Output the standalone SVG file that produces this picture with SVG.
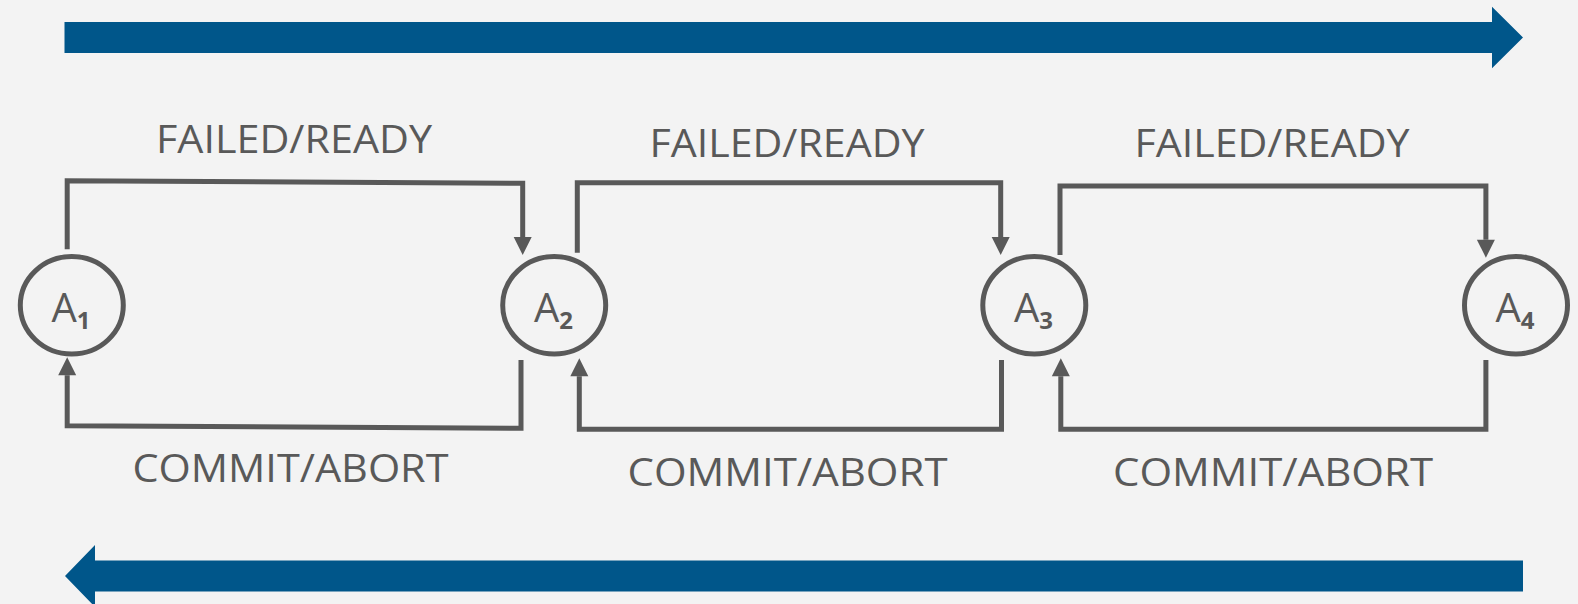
<svg xmlns="http://www.w3.org/2000/svg" width="1578" height="604" viewBox="0 0 1578 604">
<style>
.bg{fill:#f3f3f3}
.band{fill:#00568a}
.conn{fill:none;stroke:#595959;stroke-width:5;stroke-linejoin:miter}
.node{fill:none;stroke:#595959;stroke-width:5}
.lbl{font-family:"Open Sans","Liberation Sans",sans-serif;font-size:39px;fill:#595959;text-anchor:middle}
.nl{font-family:"Open Sans","Liberation Sans",sans-serif;font-size:40px;fill:#595959;text-anchor:middle}
.sub{font-size:24px;font-weight:bold}
</style>
<defs>
<marker id="ah" markerUnits="userSpaceOnUse" markerWidth="18" markerHeight="18" refX="0" refY="9" orient="auto" overflow="visible">
<path d="M0,0 L18,9 L0,18 Z" fill="#595959"/>
</marker>
</defs>
<rect class="bg" x="0" y="0" width="1578" height="604"/>
<g id="top-band">
<path class="band" d="M64.5,22 H1492 V6.7 L1523,37.5 L1492,68.3 V53 H64.5 Z"/>
</g>
<g id="bottom-band">
<path class="band" d="M1523,560.5 H95 V545 L65,576 L95,607 V591.5 H1523 Z"/>
</g>
<g id="connectors">
<path class="conn" d="M67.2,249.3 V180.7 L522.7,183.3 V237" marker-end="url(#ah)"/>
<path class="conn" d="M521,360 V428.3 L67.2,425.7 V375.3" marker-end="url(#ah)"/>
<path class="conn" d="M577.3,252.7 V182.7 H1000.7 V237" marker-end="url(#ah)"/>
<path class="conn" d="M1001.5,360 V429.3 H579.3 V376.3" marker-end="url(#ah)"/>
<path class="conn" d="M1060,255 V186 H1485.9 V239.7" marker-end="url(#ah)"/>
<path class="conn" d="M1485.9,360 V429.3 H1060.8 V376.3" marker-end="url(#ah)"/>
</g>
<g id="labels">
<text class="lbl" x="294" y="153.3" textLength="276" lengthAdjust="spacingAndGlyphs">FAILED/READY</text>
<text class="lbl" x="787" y="156.5" textLength="275" lengthAdjust="spacingAndGlyphs">FAILED/READY</text>
<text class="lbl" x="1272" y="156.5" textLength="275" lengthAdjust="spacingAndGlyphs">FAILED/READY</text>
<text class="lbl" x="290.5" y="481.7" textLength="316" lengthAdjust="spacingAndGlyphs">COMMIT/ABORT</text>
<text class="lbl" x="787.5" y="485.5" textLength="320" lengthAdjust="spacingAndGlyphs">COMMIT/ABORT</text>
<text class="lbl" x="1273" y="485.5" textLength="320" lengthAdjust="spacingAndGlyphs">COMMIT/ABORT</text>
</g>
<g id="A1">
<ellipse class="node" cx="71.8" cy="305.3" rx="51.5" ry="48.7"/>
<text class="nl" x="71" y="321.7">A<tspan class="sub" dy="7.6">1</tspan></text>
</g>
<g id="A2">
<ellipse class="node" cx="554.2" cy="305.3" rx="51.5" ry="48.7"/>
<text class="nl" x="553.5" y="321.7">A<tspan class="sub" dy="7.6">2</tspan></text>
</g>
<g id="A3">
<ellipse class="node" cx="1034.3" cy="305.3" rx="51.5" ry="48.7"/>
<text class="nl" x="1033.5" y="321.7">A<tspan class="sub" dy="7.6">3</tspan></text>
</g>
<g id="A4">
<ellipse class="node" cx="1516" cy="305.3" rx="51.5" ry="48.7"/>
<text class="nl" x="1515" y="321.7">A<tspan class="sub" dy="7.6">4</tspan></text>
</g>
</svg>
